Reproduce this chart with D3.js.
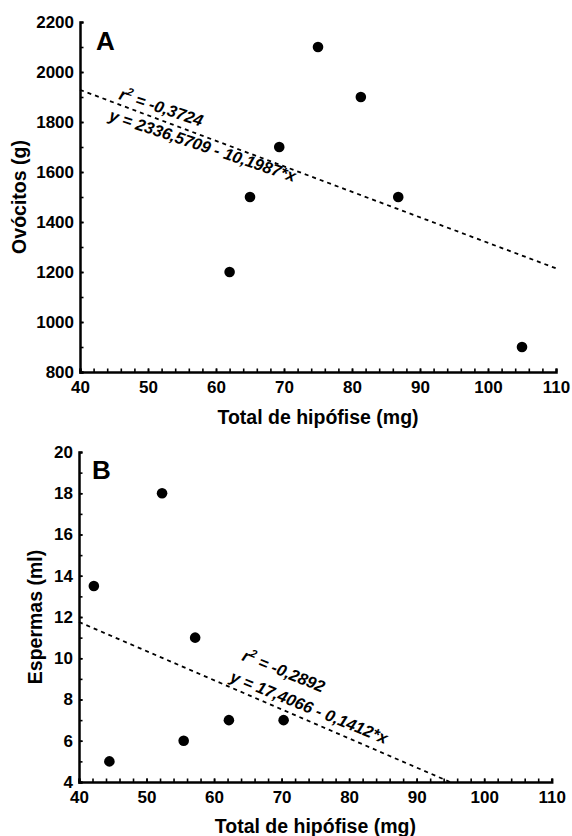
<!DOCTYPE html>
<html>
<head>
<meta charset="utf-8">
<script src="https://cdn.jsdelivr.net/npm/d3@7"></script>
<style>
    body { margin: 0; background: #fff; }
    svg { display: block; font-family: "Liberation Sans", Arial, sans-serif; }
    .axis path.domain { stroke: #000; stroke-width: 2.5; }
    .axis line { stroke: #000; stroke-width: 1.6; }
    .axis text { font-size: 17px; font-weight: bold; fill: #000; }
    .title { font-size: 19.5px; font-weight: bold; }
    .annot { font-size: 16.5px; font-weight: bold; font-style: italic; }
    .fit { fill: none; stroke: #000; stroke-width: 1.8; stroke-dasharray: 4,4; }
</style>
</head>
<body>
<svg width="572" height="836"></svg>
<script>
// Panel A: ovócitos vs total de hipófise
const hipofiseA = [62, 65, 69.3, 75, 81.3, 86.8, 105];
const ovocitos = [1200, 1500, 1700, 2100, 1900, 1500, 900];
const fitA = { a: 2336.5709, b: -10.1987 };
const xTicksA = [40, 50, 60, 70, 80, 90, 100, 110];
const yTicksA = [800, 1000, 1200, 1400, 1600, 1800, 2000, 2200];

// Panel B: espermas vs total de hipófise
const hipofiseB = [42.2, 44.5, 52.3, 55.5, 57.2, 62.2, 70.3];
const espermas = [13.5, 5, 18, 6, 11, 7, 7];
const fitB = { a: 17.4066, b: -0.1412 };
const xTicksB = [40, 50, 60, 70, 80, 90, 100, 110];
const yTicksB = [4, 6, 8, 10, 12, 14, 16, 18, 20];

const svg = d3.select("svg");

function drawPanel(opts) {
    const x = d3.scaleLinear()
        .domain([opts.xTicks[0], opts.xTicks[opts.xTicks.length - 1]])
        .range([opts.left, opts.right]);
    const y = d3.scaleLinear()
        .domain([opts.yTicks[0], opts.yTicks[opts.yTicks.length - 1]])
        .range([opts.bottom, opts.top]);

    const g = svg.append("g");

    // minor ticks first, then the major axis on top
    g.append("g")
        .attr("class", "axis")
        .attr("transform", `translate(0, ${opts.bottom})`)
        .call(d3.axisBottom(x).tickValues(d3.range(x.domain()[0], x.domain()[1], opts.xMinor))
            .tickSize(-3.5).tickFormat(""))
        .select(".domain").remove();
    g.append("g")
        .attr("class", "axis")
        .attr("transform", `translate(${opts.left}, 0)`)
        .call(d3.axisLeft(y).tickValues(d3.range(y.domain()[0], y.domain()[1], opts.yMinor))
            .tickSize(-3.5).tickFormat(""))
        .select(".domain").remove();

    g.append("g")
        .attr("class", "axis")
        .attr("transform", `translate(0, ${opts.bottom})`)
        .call(d3.axisBottom(x).tickValues(opts.xTicks).tickFormat(d3.format("d"))
            .tickSize(-3.5).tickPadding(9));
    g.append("g")
        .attr("class", "axis")
        .attr("transform", `translate(${opts.left}, 0)`)
        .call(d3.axisLeft(y).tickValues(opts.yTicks).tickFormat(d3.format("d"))
            .tickSize(-3.5).tickPadding(6));

    // regression line, clipped to the y domain
    const x0 = x.domain()[0];
    let x1 = x.domain()[1];
    const yMin = y.domain()[0];
    if (opts.fit.a + opts.fit.b * x1 < yMin) x1 = (yMin - opts.fit.a) / opts.fit.b;
    g.append("path")
        .attr("class", "fit")
        .datum([x0, x1])
        .attr("d", d3.line().x(d => x(d)).y(d => y(opts.fit.a + opts.fit.b * d)));

    // points
    g.selectAll("circle")
        .data(opts.xs.map((d, i) => [d, opts.ys[i]]))
        .enter()
        .append("circle")
        .attr("cx", d => x(d[0]))
        .attr("cy", d => y(d[1]))
        .attr("r", 5.3)
        .attr("fill", "#000");

    // annotations
    const r = g.append("text")
        .attr("class", "annot")
        .attr("transform", `translate(${opts.rPos[0]}, ${opts.rPos[1]}) rotate(${opts.angle})`);
    r.append("tspan").text("r");
    r.append("tspan").attr("font-size", 11).attr("dy", -7).text("2");
    r.append("tspan").attr("dy", 7).text(" = " + opts.rText);

    g.append("text")
        .attr("class", "annot")
        .attr("transform", `translate(${opts.eqPos[0]}, ${opts.eqPos[1]}) rotate(${opts.angle})`)
        .text(opts.eqText);

    // panel letter
    g.append("text")
        .attr("x", opts.letterPos[0])
        .attr("y", opts.letterPos[1])
        .attr("font-size", 26)
        .attr("font-weight", "bold")
        .text(opts.letter);

    // axis titles
    g.append("text")
        .attr("class", "title")
        .attr("text-anchor", "middle")
        .attr("x", (opts.left + opts.right) / 2)
        .attr("y", opts.xTitleY)
        .text("Total de hipófise (mg)");
    g.append("text")
        .attr("class", "title")
        .attr("text-anchor", "middle")
        .attr("transform", `translate(${opts.yTitleX}, ${(opts.top + opts.bottom) / 2}) rotate(-90)`)
        .text(opts.yTitle);
}

drawPanel({
    xs: hipofiseA, ys: ovocitos, fit: fitA,
    xTicks: xTicksA, yTicks: yTicksA, xMinor: 2, yMinor: 100,
    left: 80, right: 556, top: 22, bottom: 372,
    rText: "-0,3724", eqText: "y = 2336,5709 - 10,1987*x",
    rPos: [118, 99], eqPos: [108, 120], angle: 18.5,
    letter: "A", letterPos: [96, 50],
    xTitleY: 424, yTitleX: 26, yTitle: "Ovócitos (g)"
});

drawPanel({
    xs: hipofiseB, ys: espermas, fit: fitB,
    xTicks: xTicksB, yTicks: yTicksB, xMinor: 2, yMinor: 1,
    left: 79, right: 551.7, top: 452, bottom: 782,
    rText: "-0,2892", eqText: "y = 17,4066 - 0,1412*x",
    rPos: [241, 660], eqPos: [229, 681], angle: 22,
    letter: "B", letterPos: [92, 479],
    xTitleY: 833, yTitleX: 42, yTitle: "Espermas (ml)"
});
</script>
</body>
</html>
